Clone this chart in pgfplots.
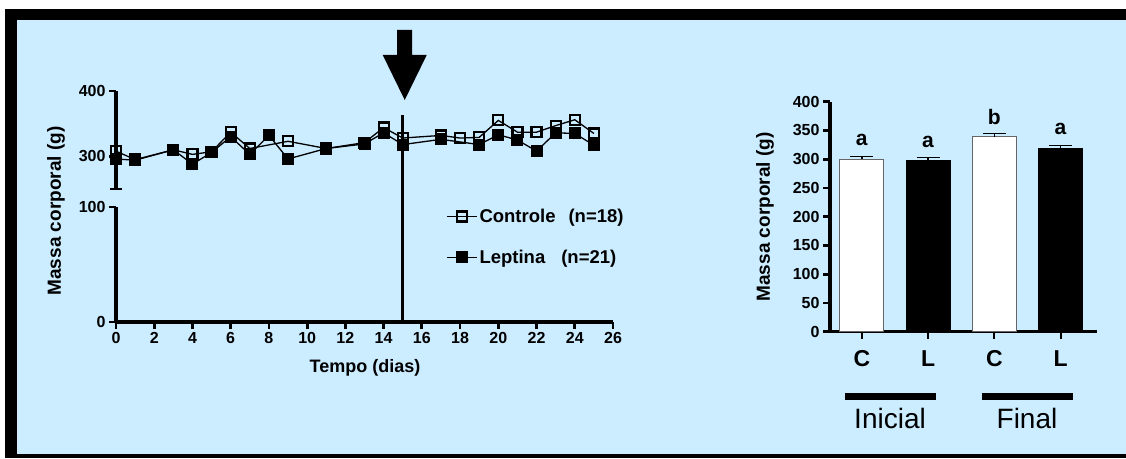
\documentclass[border=0pt]{standalone}
\usepackage{pgfplots}
\pgfplotsset{compat=1.18}
\usepackage{fontspec}
\setmainfont{Liberation Sans}
\definecolor{bgblue}{RGB}{204,236,255}
\pgfplotsset{
  myaxis/.style={
    scale only axis,
    axis line style={line width=3.2pt,-},
    every tick/.style={line width=2.8pt,black},
    tick align=outside,
    major tick length=7pt,
    tick label style={font=\fontsize{16}{16}\selectfont\bfseries},
    /pgf/number format/assume math mode=true,
    clip=false,
    anchor=south west,
  }
}
\begin{document}
\begin{tikzpicture}
\useasboundingbox (0pt,0pt) rectangle (1126pt,458pt);
\fill[white] (0pt,0pt) rectangle (1126pt,458pt);
\fill[black] (5pt,0pt) rectangle (1126pt,449pt);
\fill[bgblue] (17pt,4pt) rectangle (1126pt,438pt);
% lower part of broken axis
\begin{axis}[myaxis, at={(116pt,136pt)}, width=497pt, height=115pt,
  xmin=0, xmax=26, ymin=0, ymax=100,
  axis x line*=bottom, axis y line*=left,
  xtick={0,2,...,26}, ytick={0,100}]
\draw[line width=3.2pt] (axis cs:15,0) -- ++(0pt,207pt);
\end{axis}
% upper part
\begin{axis}[myaxis, at={(116pt,269pt)}, width=497pt, height=98pt,
  xmin=0, xmax=26, ymin=250, ymax=400,
  axis x line=none, axis y line*=left,
  ytick={300,400},
  extra y ticks={250}, extra y tick labels={},
  extra y tick style={tick align=center, major tick length=12pt},
  reverse legend, legend cell align=left,
  legend image code/.code={\draw[mark repeat=2,mark phase=2,#1] plot coordinates {(0pt,0pt)(15pt,0pt)(30pt,0pt)};},
  legend style={at={(0.658,-0.49)}, anchor=west, draw=none, fill=none,
     font=\fontsize{18.5}{20}\selectfont\bfseries, row sep=22pt}]
\addplot[black, line width=1.3pt, mark=square*, mark size=5.5pt, mark options={line width=1pt, fill=black}]
 coordinates {(0,296)(1,294)(3,310)(4,288)(5,306)(6,330)(7,303)(8,332)(9,296)(11,312)(13,319)(14,336)(15,318)(17,326)(19,318)(20,333)(21,325)(22,308)(23,336)(24,335)(25,317)};
\addlegendentry{Leptina\hspace{16pt}(n=21)}
\addplot[black, line width=1.3pt, mark=square, mark size=5pt, mark options={line width=2.2pt}]
 coordinates {(0,308)(1,295)(3,310)(4,303)(5,307)(6,337)(7,312)(9,323)(11,312)(13,321)(14,344)(15,328)(17,332)(18,328)(19,329)(20,355)(21,337)(22,337)(23,347)(24,356)(25,335)};
\addlegendentry{Controle\hspace{13pt}(n=18)}
\fill[black] (axis cs:15,400) ++(2pt,-9pt) -- ++(-22pt,45pt) -- ++(14.5pt,0pt) -- ++(0pt,25pt) -- ++(15pt,0pt) -- ++(0pt,-25pt) -- ++(14.5pt,0pt) -- cycle;
\end{axis}
\node[rotate=90, font=\fontsize{19}{19}\selectfont\bfseries] at (56pt,247pt) {Massa corporal (g)};
\node[font=\fontsize{18}{18}\selectfont\bfseries] at (365pt,90pt) {Tempo (dias)};
% bar chart
\begin{axis}[myaxis, at={(830pt,126.3pt)}, width=267pt, height=230pt,
  xmin=-0.48, xmax=3.55, ymin=0, ymax=400,
  axis x line*=bottom, axis y line*=left,
  ytick={0,50,...,400}, xtick={0,1,2,3}, xticklabels={C,L,C,L},
  x tick style={line width=2pt},
  x tick label style={font=\fontsize{23}{23}\selectfont\bfseries, yshift=-8pt}]
\addplot[ybar, bar shift=0pt, bar width=44pt, fill=white, draw=black!60, line width=1pt,
  error bars/.cd, y dir=plus, y explicit, error bar style={line width=1.5pt,black},
  error mark options={rotate=90, line width=1.5pt, mark size=11.5pt, black}]
  coordinates {(0,300) +- (0,5) (2,339) +- (0,6)};
\addplot[ybar, bar shift=0pt, bar width=44pt, fill=black, draw=black, line width=1pt,
  error bars/.cd, y dir=plus, y explicit, error bar style={line width=1.5pt,black},
  error mark options={rotate=90, line width=1.5pt, mark size=11.5pt, black}]
  coordinates {(1,297) +- (0,6) (3,318) +- (0,6)};
\node[anchor=south, inner sep=0pt, yshift=10pt, font=\fontsize{21}{21}\selectfont\bfseries] at (axis cs:0,305) {a};
\node[anchor=south, inner sep=0pt, yshift=10pt, font=\fontsize{21}{21}\selectfont\bfseries] at (axis cs:1,303) {a};
\node[anchor=south, inner sep=0pt, yshift=8pt, font=\fontsize{21}{21}\selectfont\bfseries] at (axis cs:2,345) {b};
\node[anchor=south, inner sep=0pt, yshift=10pt, font=\fontsize{21}{21}\selectfont\bfseries] at (axis cs:3,324) {a};
\end{axis}
\node[rotate=90, font=\fontsize{19}{19}\selectfont\bfseries] at (765pt,241pt) {Massa corporal (g)};
\draw[line width=7pt] (845pt,62pt) -- (936pt,62pt);
\draw[line width=7pt] (982pt,62pt) -- (1073pt,62pt);
\node[font=\fontsize{28}{28}\selectfont] at (890pt,40pt) {Inicial};
\node[font=\fontsize{28}{28}\selectfont] at (1027pt,40pt) {Final};
\end{tikzpicture}
\end{document}
